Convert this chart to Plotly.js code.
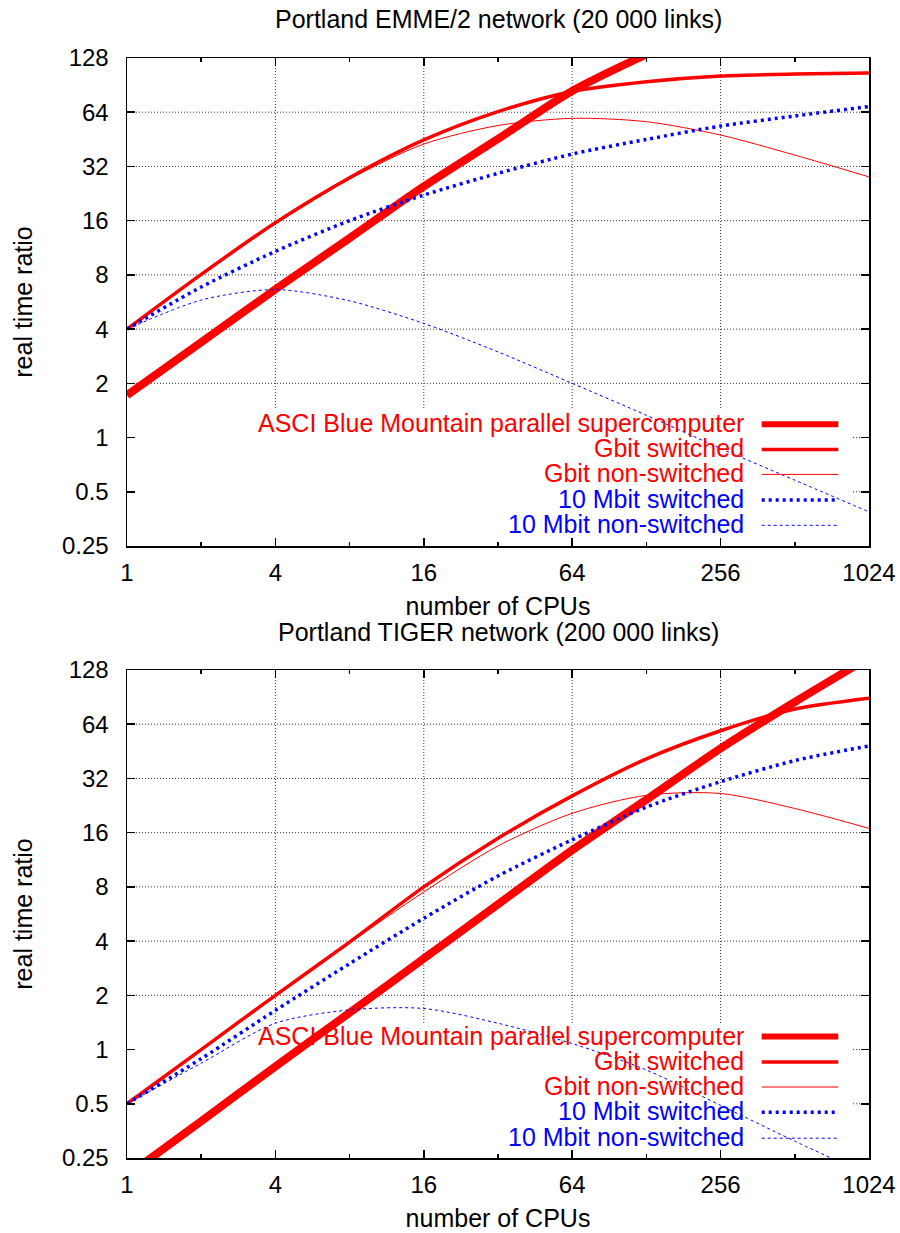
<!DOCTYPE html>
<html>
<head>
<meta charset="utf-8">
<script src="https://cdn.plot.ly/plotly-3.0.1.min.js"></script>
<style>html,body{margin:0;padding:0;background:#fff;}#chart{width:900px;height:1233px;}</style>
</head>
<body>
<div id="chart"></div>
<script>
// ---------- data ----------
const cpus = [1, 2, 4, 8, 16, 32, 64, 128, 256, 512, 1024];
const cpusAsciEmme = [1, 2, 4, 8, 16, 32, 64, 128];

const xTickVals = [1, 4, 16, 64, 256, 1024];
const xTickText = ['1', '4', '16', '64', '256', '1024'];
const xMinorVals = [2, 8, 32, 128, 512];
const yTickVals = [0.25, 0.5, 1, 2, 4, 8, 16, 32, 64, 128];
const yTickText = ['0.25', '0.5', '1', '2', '4', '8', '16', '32', '64', '128'];
const xGridVals = [4, 16, 64, 256];
const yGridVals = [0.5, 1, 2, 4, 8, 16, 32, 64];

const seriesNames = [
  'ASCI Blue Mountain parallel supercomputer',
  'Gbit switched',
  'Gbit non-switched',
  '10 Mbit switched',
  '10 Mbit non-switched'
];

// Portland EMME/2 network (20 000 links)
const emmeAsci   = [1.72, 3.38, 6.65, 12.8, 24.8, 45.5, 84, 134];
const emmeGbitSw = [4, 8.05, 15.6, 27.7, 44.9, 64.5, 83.5, 94.5, 101.7, 104.3, 105.5];
const emmeGbitNs = [4, 7.95, 15.3, 27.2, 42.6, 54, 59.2, 56.7, 47.8, 37, 28];
const emmeMbitSw = [4, 6.85, 10.8, 16, 22.2, 29.3, 37.5, 45.2, 53.6, 61, 68.8];
const emmeMbitNs = [4, 5.8, 6.63, 5.74, 4.3, 2.99, 2.0, 1.33, 0.87, 0.58, 0.387];

// Portland TIGER network (200 000 links)
const tigerAsci   = [0.2, 0.4, 0.806, 1.6, 3.2, 6.4, 12.8, 24.4, 47, 85, 150];
const tigerGbitSw = [0.5, 1.0, 2.0, 3.95, 8.0, 14.9, 25.6, 41.1, 58.9, 77.7, 89.3];
const tigerGbitNs = [0.5, 0.99, 1.97, 3.9, 7.5, 13.5, 20.5, 25.8, 26.4, 21.8, 16.9];
const tigerMbitSw = [0.5, 0.89, 1.65, 3.0, 5.35, 9.2, 14.6, 22.2, 30.7, 40.2, 48.5];
const tigerMbitNs = [0.5, 0.84, 1.4, 1.66, 1.69, 1.4, 1.08, 0.77, 0.49, 0.31, 0.2];

const titleTop = 'Portland EMME/2 network (20 000 links)';
const titleBottom = 'Portland TIGER network (200 000 links)';
const xTitle = 'number of CPUs';
const yTitle = 'real time ratio';

// ---------- styles ----------
const RED = '#ff0000', BLUE = '#0000ff';
const styles = [
  {color: RED,  width: 8,   dash: 'solid'},
  {color: RED,  width: 3.5, dash: 'solid'},
  {color: RED,  width: 1,   dash: 'solid'},
  {color: BLUE, width: 3.5, dash: '3px,4px'},
  {color: BLUE, width: 1,   dash: '3px,3px'}
];
const FONT = 'Liberation Sans, Arial, Helvetica, sans-serif';

// layout geometry (px)
const W = 900, H = 1233;
const L = 127, R = 869, T = 58, B = 1158;
const px2x = p => (p - L) / (R - L);
const px2y = p => (B - p) / (B - T);

function mk(xs, ys, i, xa, ya) {
  const s = styles[i];
  return {
    x: xs, y: ys, type: 'scatter', mode: 'lines', name: seriesNames[i],
    xaxis: xa, yaxis: ya, showlegend: false, hoverinfo: 'skip',
    line: {color: s.color, width: s.width, dash: s.dash, shape: 'spline', smoothing: 0.8}
  };
}

const traces = [
  mk(cpusAsciEmme, emmeAsci, 0, 'x', 'y'),
  mk(cpus, emmeGbitSw, 1, 'x', 'y'),
  mk(cpus, emmeGbitNs, 2, 'x', 'y'),
  mk(cpus, emmeMbitSw, 3, 'x', 'y'),
  mk(cpus, emmeMbitNs, 4, 'x', 'y'),
  mk(cpus, tigerAsci, 0, 'x2', 'y2'),
  mk(cpus, tigerGbitSw, 1, 'x2', 'y2'),
  mk(cpus, tigerGbitNs, 2, 'x2', 'y2'),
  mk(cpus, tigerMbitSw, 3, 'x2', 'y2'),
  mk(cpus, tigerMbitNs, 4, 'x2', 'y2')
];

function xAxis(anchor) {
  return {
    type: 'log', range: [0, Math.log10(1024)], anchor: anchor, domain: [0, 1],
    tickmode: 'array', tickvals: xTickVals, ticktext: xTickText,
    ticks: 'inside', ticklen: 8, tickwidth: 1.5, tickcolor: '#000',
    minor: {tickmode: 'array', tickvals: xMinorVals, ticks: 'inside', ticklen: 4, tickwidth: 1.5, tickcolor: '#000', showgrid: false},
    showline: true, linecolor: '#000', linewidth: 1.5, mirror: 'ticks',
    showgrid: false, zeroline: false, ticklabelstandoff: 5,
    tickfont: {family: FONT, size: 24, color: '#000'},
    title: {text: xTitle, font: {family: FONT, size: 25, color: '#000'}, standoff: 12}
  };
}
function yAxis(anchor, domain) {
  return {
    type: 'log', range: [Math.log10(0.25), Math.log10(128)], anchor: anchor, domain: domain,
    tickmode: 'array', tickvals: yTickVals, ticktext: yTickText,
    ticks: 'inside', ticklen: 8, tickwidth: 1.5, tickcolor: '#000',
    showline: true, linecolor: '#000', linewidth: 1.5, mirror: 'ticks',
    showgrid: false, zeroline: false, ticklabelstandoff: 12,
    tickfont: {family: FONT, size: 24, color: '#000'},
    title: {text: yTitle, font: {family: FONT, size: 25, color: '#000'}, standoff: 22}
  };
}

const shapes = [];
const annotations = [];
const gridLine = {color: '#333', width: 1, dash: '1px,2px'};

// dotted grid (drawn as shapes so the key box can hide it, like gnuplot)
function addGrid(xa, ya, keyTopFrac) {
  xGridVals.forEach(v => shapes.push({type: 'line', xref: xa, yref: ya + ' domain',
    x0: v, x1: v, y0: 0, y1: 1, line: gridLine, layer: 'below'}));
  yGridVals.forEach(v => shapes.push({type: 'line', xref: xa + ' domain', yref: ya,
    x0: 0, x1: 1, y0: v, y1: v, line: gridLine, layer: 'below'}));
  shapes.push({type: 'rect', xref: xa + ' domain', yref: ya + ' domain', x0: 0, x1: px2x(853), y0: 0, y1: keyTopFrac,
    fillcolor: '#ffffff', line: {width: 0}, layer: 'below'});
}
addGrid('x', 'y', (546 - 410) / (546 - 58));
addGrid('x2', 'y2', (1158 - 1023) / (1158 - 670));

// keys
const keyRowsTop = [423.3, 448.4, 473.4, 499, 524.3];
const keyRowsBot = [1035.5, 1061, 1086, 1111.3, 1137.2];
function addKey(rows) {
  rows.forEach((py, i) => {
    const s = styles[i];
    annotations.push({xref: 'paper', yref: 'paper', x: px2x(746), y: px2y(py), xanchor: 'right', yanchor: 'middle',
      text: seriesNames[i], showarrow: false, font: {family: FONT, size: 25, color: s.color}});
    shapes.push({type: 'line', xref: 'paper', yref: 'paper', x0: px2x(761.7), x1: px2x(838.3), y0: px2y(py + 1), y1: px2y(py + 1),
      line: {color: s.color, width: s.width === 8 ? 6 : s.width, dash: s.dash}, layer: 'above'});
  });
}
addKey(keyRowsTop);
addKey(keyRowsBot);

// subplot titles
annotations.push({xref: 'paper', yref: 'paper', x: 0.5, y: px2y(19), xanchor: 'center', yanchor: 'middle',
  text: titleTop, showarrow: false, font: {family: FONT, size: 25, color: '#000'}});
annotations.push({xref: 'paper', yref: 'paper', x: 0.5, y: px2y(632), xanchor: 'center', yanchor: 'middle',
  text: titleBottom, showarrow: false, font: {family: FONT, size: 25, color: '#000'}});

const layout = {
  width: W, height: H,
  margin: {l: L, r: W - R, t: T, b: H - B, autoexpand: false},
  paper_bgcolor: '#fff', plot_bgcolor: '#fff',
  showlegend: false,
  font: {family: FONT, size: 25, color: '#000'},
  xaxis: xAxis('y'),
  yaxis: yAxis('x', [px2y(546), 1]),
  xaxis2: xAxis('y2'),
  yaxis2: yAxis('x2', [0, px2y(670)]),
  shapes: shapes,
  annotations: annotations
};

Plotly.newPlot('chart', traces, layout, {displayModeBar: false, staticPlot: true});
</script>
</body>
</html>
